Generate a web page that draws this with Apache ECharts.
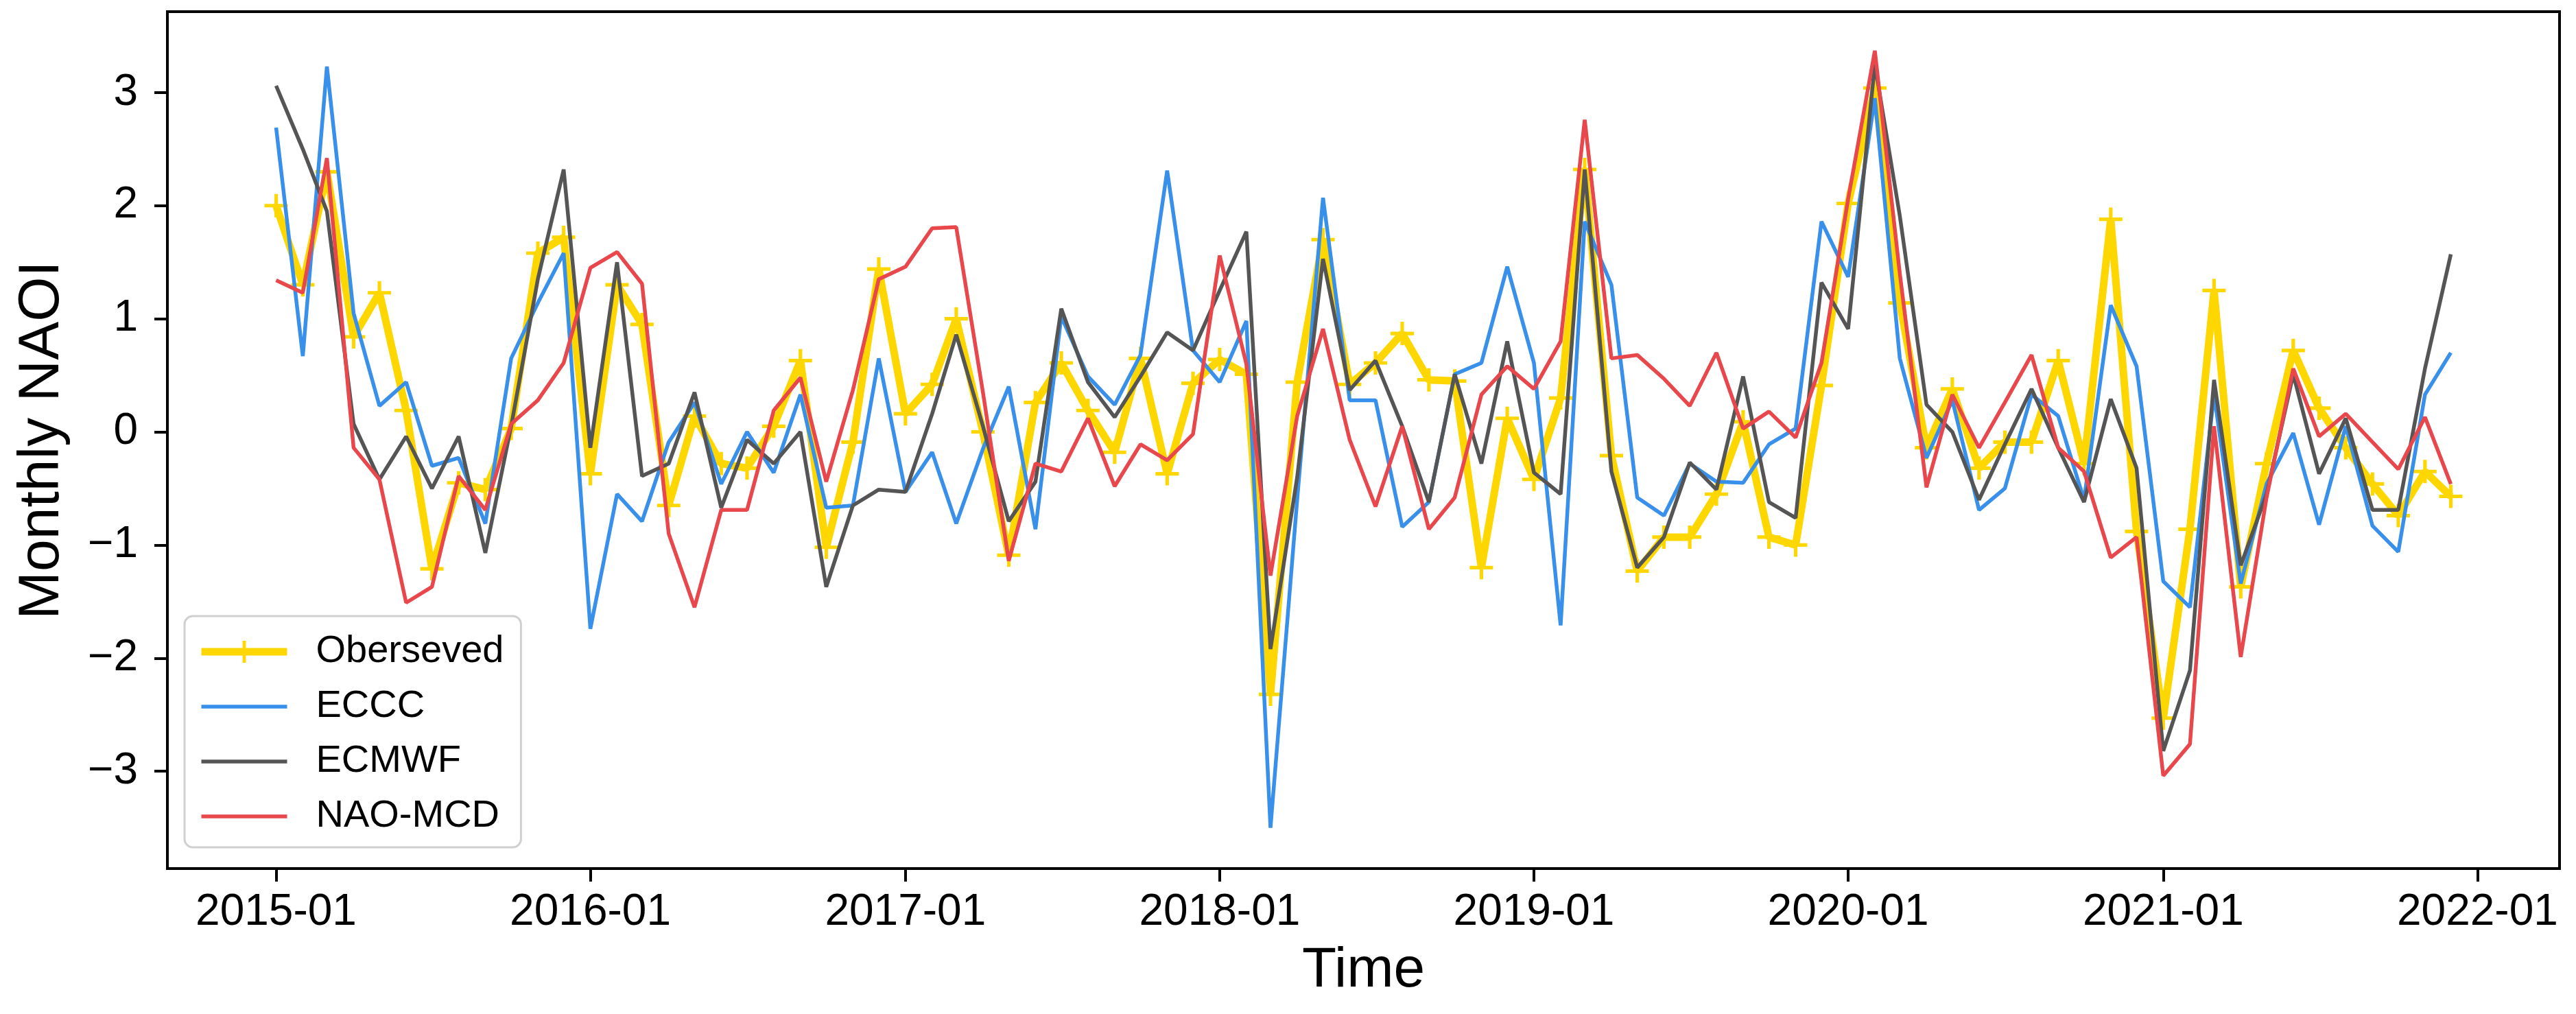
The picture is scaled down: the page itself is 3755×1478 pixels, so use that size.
<!DOCTYPE html>
<html><head><meta charset="utf-8">
<script src="https://cdn.jsdelivr.net/npm/echarts@6/dist/echarts.min.js"></script>
<style>html,body{margin:0;padding:0;background:#fff}#c{width:3755px;height:1478px}</style>
</head><body><div id="c"></div>
<script>
// Monthly values, 2015-01 .. 2021-12
const observed = [
  2.00, 1.30, 2.30, 0.84, 1.23, 0.19, -1.21, -0.45, -0.51, 0.03, 1.58, 1.72,
  -0.37, 1.30, 0.95, -0.65, 0.14, -0.28, -0.32, 0.05, 0.63, -1.02, -0.09, 1.44,
  0.16, 0.42, 1.00, 0.00, -1.09, 0.26, 0.61, 0.19, -0.18, 0.65, -0.37, 0.43,
  0.64, 0.51, -2.32, 0.44, 1.70, 0.42, 0.61, 0.87, 0.46, 0.45, -1.20, 0.12,
  -0.42, 0.30, 2.32, -0.21, -1.23, -0.93, -0.93, -0.55, 0.09, -0.93, -1.00, 0.41,
  2.02, 3.04, 1.14, -0.14, 0.38, -0.32, -0.09, -0.09, 0.63, -0.28, 1.88, -0.88,
  -2.53, -0.86, 1.25, -1.37, -0.28, 0.72, 0.21, -0.14, -0.46, -0.74, -0.35, -0.57
];
const eccc = [
  2.69, 0.67, 3.23, 1.05, 0.23, 0.44, -0.30, -0.23, -0.81, 0.65, 1.14, 1.58,
  -1.74, -0.55, -0.79, -0.09, 0.26, -0.46, 0.00, -0.36, 0.33, -0.67, -0.65, 0.65,
  -0.53, -0.18, -0.81, -0.15, 0.40, -0.86, 1.02, 0.49, 0.24, 0.68, 2.31, 0.72,
  0.44, 0.98, -3.50, -0.60, 2.07, 0.28, 0.28, -0.84, -0.62, 0.51, 0.61, 1.46,
  0.61, -1.71, 1.86, 1.30, -0.58, -0.74, -0.28, -0.44, -0.45, -0.11, 0.03, 1.86,
  1.37, 2.95, 0.65, -0.23, 0.28, -0.69, -0.50, 0.33, 0.14, -0.60, 1.12, 0.58,
  -1.32, -1.55, 0.33, -1.34, -0.46, -0.01, -0.82, 0.05, -0.83, -1.06, 0.33, 0.70
];
const ecmwf = [
  3.06, 2.50, 1.95, 0.07, -0.42, -0.04, -0.50, -0.04, -1.07, 0.05, 1.35, 2.32,
  -0.14, 1.50, -0.39, -0.28, 0.35, -0.67, -0.07, -0.28, 0.00, -1.37, -0.65, -0.51,
  -0.53, 0.16, 0.86, 0.05, -0.79, -0.44, 1.09, 0.44, 0.13, 0.49, 0.88, 0.72,
  1.25, 1.77, -1.92, -0.40, 1.53, 0.37, 0.63, 0.05, -0.62, 0.51, -0.28, 0.80,
  -0.36, -0.55, 2.32, -0.35, -1.20, -0.93, -0.27, -0.51, 0.49, -0.62, -0.76, 1.32,
  0.91, 3.25, 1.91, 0.24, 0.00, -0.60, -0.11, 0.38, -0.14, -0.62, 0.29, -0.32,
  -2.82, -2.11, 0.46, -1.18, -0.55, 0.51, -0.37, 0.12, -0.69, -0.69, 0.56, 1.57
];
const naoMcd = [
  1.34, 1.23, 2.42, -0.14, -0.42, -1.51, -1.37, -0.39, -0.69, 0.07, 0.28, 0.61,
  1.45, 1.59, 1.31, -0.90, -1.55, -0.69, -0.69, 0.19, 0.48, -0.44, 0.37, 1.35,
  1.46, 1.80, 1.81, 0.35, -1.14, -0.28, -0.35, 0.12, -0.48, -0.11, -0.25, -0.02,
  1.56, 0.60, -1.27, 0.14, 0.91, -0.07, -0.66, 0.05, -0.86, -0.58, 0.33, 0.58,
  0.38, 0.80, 2.76, 0.65, 0.68, 0.47, 0.23, 0.70, 0.03, 0.18, -0.05, 0.61,
  2.06, 3.37, 1.40, -0.49, 0.33, -0.14, 0.26, 0.68, -0.14, -0.35, -1.11, -0.93,
  -3.04, -2.76, 0.05, -1.99, -0.58, 0.56, -0.04, 0.16, -0.09, -0.33, 0.13, -0.46
];
const seriesNames = ['Oberseved', 'ECCC', 'ECMWF', 'NAO-MCD'];
const yTicks = [-3, -2, -1, 0, 1, 2, 3];
const xTickLabels = ['2015-01', '2016-01', '2017-01', '2018-01', '2019-01', '2020-01', '2021-01', '2022-01'];

const months = [];
for (let y = 2015; y <= 2021; y++) for (let m = 0; m < 12; m++) months.push(Date.UTC(y, m, 1));
const xTicks = xTickLabels.map(s => Date.UTC(+s.slice(0, 4), +s.slice(5) - 1, 1));
const DAY = 86400000;
const xMin = months[0] - 126.3 * DAY;
const xMax = months[months.length - 1] + 126.3 * DAY;
const pair = arr => arr.map((v, i) => [months[i], v]);

const FONT = '"Liberation Sans", Arial, Helvetica, sans-serif';
const plusPath = 'path://M0,14 L33,14 L33,19 L0,19 Z M14,0 L19,0 L19,33 L14,33 Z';
const colors = ['#FFD700', '#3890EA', '#555555', '#E8474C'];
const widths = [11, 5.5, 5.5, 5.5];

const chart = echarts.init(document.getElementById('c'), null, {renderer: 'canvas'});
chart.setOption({
  animation: false,
  backgroundColor: '#ffffff',
  textStyle: {fontFamily: FONT},
  grid: {left: 244, right: 24, top: 17, bottom: 212, show: true, borderColor: '#000', borderWidth: 4, backgroundColor: 'transparent'},
  legend: {
    orient: 'vertical', left: 269, top: 898,
    itemWidth: 125, itemHeight: 40, itemGap: 24,
    padding: [24, 25, 17, 19],
    backgroundColor: '#fff', borderColor: '#d0d0d0', borderWidth: 3, borderRadius: 12,
    textStyle: {fontSize: 56, color: '#000', fontFamily: FONT, padding: [0, 0, 0, 37]},
    data: [
      {name: seriesNames[0], lineStyle: {width: widths[0], color: colors[0]}, itemStyle: {color: colors[0], borderWidth: 0}},
      {name: seriesNames[1], lineStyle: {width: widths[1], color: colors[1]}, itemStyle: {opacity: 0}},
      {name: seriesNames[2], lineStyle: {width: widths[2], color: colors[2]}, itemStyle: {opacity: 0}},
      {name: seriesNames[3], lineStyle: {width: widths[3], color: colors[3]}, itemStyle: {opacity: 0}}
    ]
  },
  xAxis: {
    type: 'value', min: xMin, max: xMax,
    name: 'Time', nameLocation: 'middle', nameGap: 108,
    nameTextStyle: {fontSize: 82, color: '#000', fontFamily: FONT},
    axisLine: {show: true, onZero: false, lineStyle: {color: '#000', width: 4}},
    axisTick: {show: true, length: 19, lineStyle: {color: '#000', width: 4}, customValues: xTicks},
    axisLabel: {
      fontSize: 64, color: '#000', margin: 32, fontFamily: FONT, customValues: xTicks,
      formatter: v => { const i = xTicks.indexOf(v); return i >= 0 ? xTickLabels[i] : ''; }
    },
    splitLine: {show: false}
  },
  yAxis: {
    type: 'value', min: -3.86, max: 3.715,
    name: 'Monthly NAOI', nameLocation: 'middle', nameGap: 140, nameRotate: 90,
    nameTextStyle: {fontSize: 84, color: '#000', fontFamily: FONT},
    axisLine: {show: true, onZero: false, lineStyle: {color: '#000', width: 4}},
    axisTick: {show: true, length: 19, lineStyle: {color: '#000', width: 4}, customValues: yTicks},
    axisLabel: {
      fontSize: 64, color: '#000', margin: 43, fontFamily: FONT, customValues: yTicks,
      formatter: v => String(v).replace('-', '\u2212')
    },
    splitLine: {show: false}
  },
  series: [
    {name: seriesNames[0], type: 'line', data: pair(observed), z: 1,
     lineStyle: {color: colors[0], width: widths[0]}, itemStyle: {color: colors[0]},
     symbol: plusPath, symbolSize: [34, 34], showSymbol: true},
    {name: seriesNames[1], type: 'line', data: pair(eccc), z: 2, symbol: 'none',
     lineStyle: {color: colors[1], width: widths[1]}, itemStyle: {color: colors[1]}},
    {name: seriesNames[2], type: 'line', data: pair(ecmwf), z: 3, symbol: 'none',
     lineStyle: {color: colors[2], width: widths[2]}, itemStyle: {color: colors[2]}},
    {name: seriesNames[3], type: 'line', data: pair(naoMcd), z: 4, symbol: 'none',
     lineStyle: {color: colors[3], width: widths[3]}, itemStyle: {color: colors[3]}}
  ]
});
</script>
</body></html>
